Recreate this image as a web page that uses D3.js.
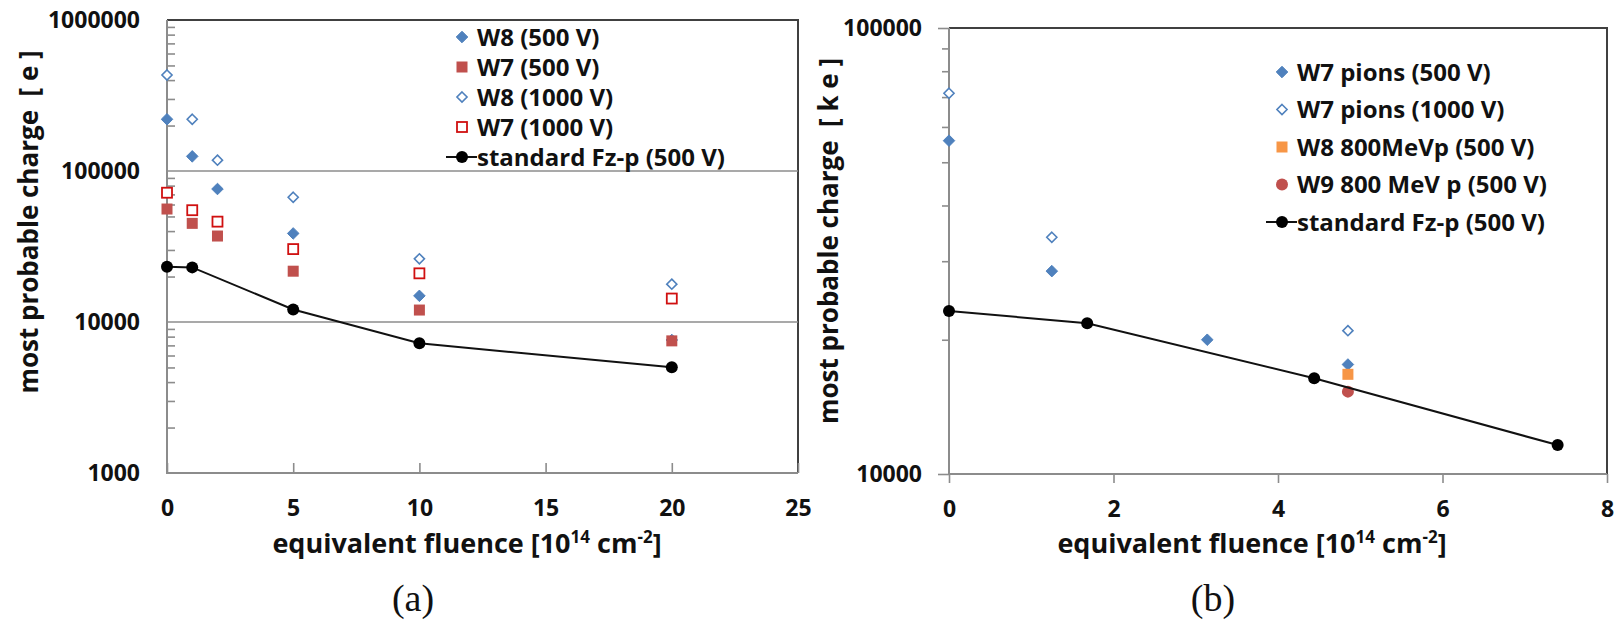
<!DOCTYPE html>
<html>
<head>
<meta charset="utf-8">
<script src="https://cdn.jsdelivr.net/npm/d3@7"></script>
<style>
  body { margin: 0; background: #fff; }
  text { font-family: "Open Sans", Lato, sans-serif; font-weight: 700; fill: #111; white-space: pre; }
  .cap { font-family: "Liberation Serif", serif; font-weight: 400; }
</style>
</head>
<body>
<div id="chart"></div>
<script>
// ---- panel (a) data ----
const fluenceA = [0, 1, 2, 5, 10, 20];
const w8_500 = [220000, 125000, 76000, 38600, 14900, 7600];
const w7_500 = [56000, 45000, 37100, 21700, 12000, 7500];
const w8_1000 = [432000, 220000, 118000, 67000, 26200, 17800];
const w7_1000 = [71800, 55000, 46200, 30400, 21000, 14300];
const fzFluenceA = [0, 1, 5, 10, 20];
const fzChargeA = [23200, 23000, 12100, 7230, 5010];
const xTicksA = [0, 5, 10, 15, 20, 25];
const yTicksA = [1000, 10000, 100000, 1000000];

// ---- panel (b) data ----
const pionFluence500 = [0, 1.25, 3.14, 4.85];
const w7pions_500 = [55900, 28500, 20000, 17600];
const pionFluence1000 = [0, 1.25, 4.85];
const w7pions_1000 = [71400, 33950, 20960];
const w8pFluence = [4.85];
const w8_800MeVp = [16730];
const w9pFluence = [4.85];
const w9_800MeVp = [15300];
const fzFluenceB = [0, 1.68, 4.44, 7.40];
const fzChargeB = [23200, 21780, 16390, 11610];
const xTicksB = [0, 2, 4, 6, 8];
const yTicksB = [10000, 100000];

const blue = "#4f81bd", red = "#c0504d", brightRed = "#d01010", orange = "#f79646";
const axisGray = "#8c8c8c", frame = "#404040";

const svg = d3.select("#chart").append("svg")
  .attr("width", 1616).attr("height", 621)
  .style("background", "#fff");

function minorTicks(domain) {
  const out = [];
  for (let d = domain[0]; d < domain[1]; d *= 10)
    for (let k = 2; k <= 9; k++) out.push(d * k);
  return out;
}

function styleAxis(g) {
  g.select(".domain").remove();
  g.selectAll(".tick line").attr("stroke", axisGray).attr("stroke-width", 1.6);
  g.selectAll("text").style("font-size", "23px");
}

function marker(g, type, x, y, color) {
  if (type === "diamond" || type === "odiamond") {
    g.append("path").attr("d", d3.symbol(d3.symbolDiamond2, type === "diamond" ? 85 : 65)())
      .attr("transform", `translate(${x},${y})`)
      .attr("fill", type === "diamond" ? color : "#fff")
      .attr("stroke", color).attr("stroke-width", type === "diamond" ? 1 : 1.6);
  } else if (type === "square" || type === "osquare") {
    const s = type === "square" ? 11 : 10;
    g.append("rect").attr("x", x - s / 2).attr("y", y - s / 2)
      .attr("width", s).attr("height", s)
      .attr("fill", type === "square" ? color : "#fff")
      .attr("stroke", color).attr("stroke-width", type === "square" ? 0 : 1.8);
  } else if (type === "circle") {
    g.append("circle").attr("cx", x).attr("cy", y).attr("r", 6).attr("fill", color);
  }
}

function drawPanel(cfg) {
  const { x, y } = cfg;
  const [x0, x1] = x.range();
  const [yb, yt] = y.range();
  const g = svg.append("g");

  // frame top/right
  g.append("path").attr("d", `M${x0},${yt}H${x1}V${yb}`)
    .attr("fill", "none").attr("stroke", frame).attr("stroke-width", 2);

  // gridlines
  cfg.grid.forEach(v => {
    g.append("line").attr("x1", x0).attr("x2", x1).attr("y1", y(v)).attr("y2", y(v))
      .attr("stroke", axisGray).attr("stroke-width", 1.6);
  });

  // minor y ticks
  g.append("g").attr("transform", `translate(${x0},0)`)
    .call(d3.axisLeft(y).tickValues(minorTicks(y.domain())).tickSize(cfg.yTickIn ? -8 : 7).tickFormat(""))
    .call(styleAxis);
  // major y ticks + labels
  g.append("g").attr("transform", `translate(${x0},0)`)
    .call(d3.axisLeft(y).tickValues(cfg.yTicks).tickSize(cfg.yTickIn ? 0 : 11).tickPadding(cfg.yTickIn ? 27 : 16).tickFormat(d3.format("d")))
    .call(styleAxis);

  // x ticks + labels
  g.append("g").attr("transform", `translate(0,${yb})`)
    .call(d3.axisBottom(x).tickValues(cfg.xTicks).tickSize(cfg.yTickIn ? -10 : 9).tickPadding(cfg.yTickIn ? 27 : 18).tickFormat(d3.format("d")))
    .call(styleAxis);

  // axis lines (left, bottom)
  g.append("path").attr("d", `M${x0},${yt}V${yb}H${x1}`)
    .attr("fill", "none").attr("stroke", axisGray).attr("stroke-width", 2);

  // series
  const line = d3.line().x(d => x(d[0])).y(d => y(d[1]));
  cfg.series.forEach(s => {
    const pts = s.xs.map((v, i) => [v, s.ys[i]]);
    if (s.line) {
      g.append("path").attr("d", line(pts)).attr("fill", "none")
        .attr("stroke", "#111").attr("stroke-width", 2);
    }
    pts.forEach(p => marker(g, s.type, x(p[0]), y(p[1]), s.color));
  });

  // legend
  const lg = g.append("g");
  cfg.series.forEach((s, i) => {
    const ly = cfg.legend.y + i * cfg.legend.step;
    const lx = cfg.legend.x;
    if (s.line) {
      lg.append("line").attr("x1", lx - 16).attr("x2", lx + 15).attr("y1", ly).attr("y2", ly)
        .attr("stroke", "#111").attr("stroke-width", 2);
    }
    marker(lg, s.type, lx, ly, s.color);
    lg.append("text").attr("x", lx + 15).attr("y", ly).attr("dy", "0.36em")
      .style("font-size", "24px").text(s.name);
  });

  // axis titles
  const xt = g.append("text").attr("x", cfg.xTitle.x).attr("y", cfg.xTitle.y)
    .attr("text-anchor", "middle").style("font-size", "27px");
  xt.append("tspan").text("equivalent fluence [10");
  xt.append("tspan").attr("dy", -10).style("font-size", "17px").text("14");
  xt.append("tspan").attr("dy", 10).text(" cm");
  xt.append("tspan").attr("dy", -10).style("font-size", "17px").text("-2");
  xt.append("tspan").attr("dy", 10).text("]");

  g.append("text").attr("transform", `translate(${cfg.yTitle.x},${cfg.yTitle.y}) rotate(-90)`)
    .attr("text-anchor", "middle").style("font-size", "26px")
    .text(cfg.yTitle.text);

  g.append("text").attr("class", "cap").attr("x", cfg.cap.x).attr("y", 611)
    .attr("text-anchor", "middle").style("font-size", "38px").text(cfg.cap.text);
}

drawPanel({
  x: d3.scaleLinear().domain([0, 25]).range([167, 798]),
  y: d3.scaleLog().domain([1000, 1000000]).range([473, 20]),
  xTicks: xTicksA, yTicks: yTicksA, grid: [10000, 100000], yTickIn: true,
  series: [
    { name: "W8 (500 V)", xs: fluenceA, ys: w8_500, type: "diamond", color: blue },
    { name: "W7 (500 V)", xs: fluenceA, ys: w7_500, type: "square", color: red },
    { name: "W8 (1000 V)", xs: fluenceA, ys: w8_1000, type: "odiamond", color: blue },
    { name: "W7 (1000 V)", xs: fluenceA, ys: w7_1000, type: "osquare", color: brightRed },
    { name: "standard Fz-p (500 V)", xs: fzFluenceA, ys: fzChargeA, type: "circle", color: "#000", line: true }
  ],
  legend: { x: 462, y: 37, step: 30 },
  xTitle: { x: 467, y: 553 },
  yTitle: { x: 38, y: 222, text: "most probable charge  [ e ]" },
  cap: { x: 413, text: "(a)" }
});

drawPanel({
  x: d3.scaleLinear().domain([0, 8]).range([949, 1607]),
  y: d3.scaleLog().domain([10000, 100000]).range([474, 28]),
  xTicks: xTicksB, yTicks: yTicksB, grid: [], yTickIn: false,
  series: [
    { name: "W7 pions (500 V)", xs: pionFluence500, ys: w7pions_500, type: "diamond", color: blue },
    { name: "W7 pions (1000 V)", xs: pionFluence1000, ys: w7pions_1000, type: "odiamond", color: blue },
    { name: "W8 800MeVp (500 V)", xs: w8pFluence, ys: w8_800MeVp, type: "square", color: orange },
    { name: "W9 800 MeV p (500 V)", xs: w9pFluence, ys: w9_800MeVp, type: "circle", color: red },
    { name: "standard Fz-p (500 V)", xs: fzFluenceB, ys: fzChargeB, type: "circle", color: "#000", line: true }
  ],
  legend: { x: 1282, y: 72, step: 37.5 },
  xTitle: { x: 1252, y: 553 },
  yTitle: { x: 838, y: 241, text: "most probable charge  [ k e ]" },
  cap: { x: 1213, text: "(b)" }
});
</script>
</body>
</html>
